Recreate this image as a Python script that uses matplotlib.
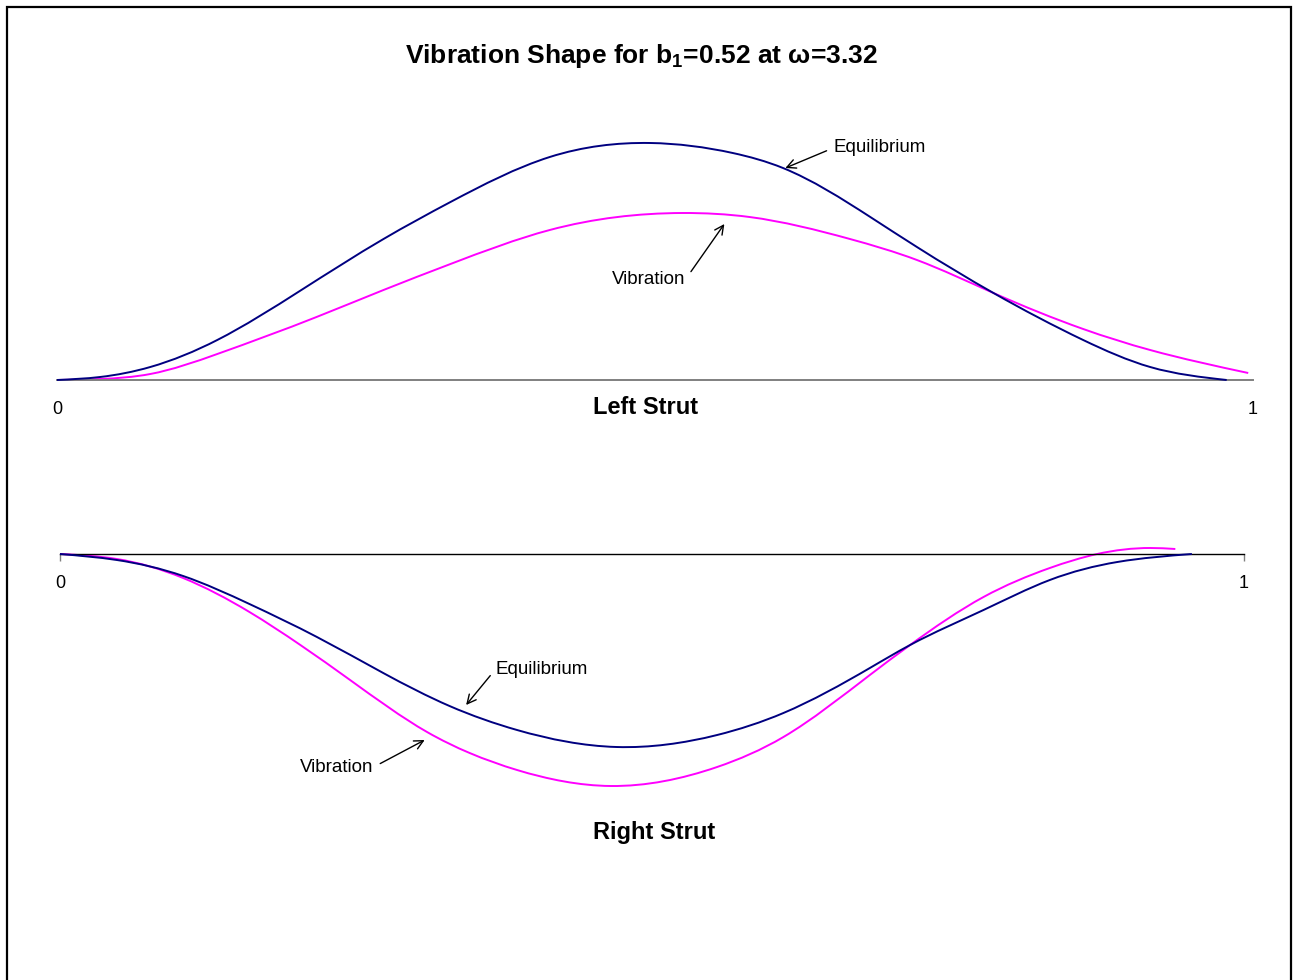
import matplotlib
matplotlib.use("Agg")
import matplotlib.pyplot as plt
import numpy as np
from matplotlib.patches import Rectangle, PathPatch
from matplotlib.path import Path

plt.rcParams['font.family'] = ['Liberation Sans', 'DejaVu Sans']
plt.rcParams['mathtext.fontset'] = 'custom'
plt.rcParams['mathtext.rm'] = 'Liberation Sans'
plt.rcParams['mathtext.bf'] = 'Liberation Sans:bold'

# left strut: position along strut (0..1) and deflection
left_eq_x = [0.0, 0.036, 0.078, 0.134, 0.203, 0.273, 0.329, 0.412, 0.496,
             0.565, 0.607, 0.680, 0.719, 0.783, 0.858, 0.914, 0.978]
left_eq_y = [0, 3, 13, 40, 89, 141, 178, 223, 237,
             227, 212, 163, 133, 87, 40, 13, 0]
left_vib_x = [0.0, 0.036, 0.078, 0.134, 0.217, 0.273, 0.329, 0.412, 0.523, 0.579,
              0.663, 0.719, 0.783, 0.858, 0.914, 0.996]
left_vib_y = [0, 1, 6, 26, 63, 90, 116, 150, 167, 163,
              141, 120, 87, 51, 30, 7]

# right strut
right_eq_x = [0.0, 0.048, 0.104, 0.160, 0.217, 0.273, 0.329, 0.386, 0.470, 0.555,
              0.611, 0.684, 0.718, 0.780, 0.836, 0.893, 0.956]
right_eq_y = [0, -6, -22, -50, -83, -119, -152, -176, -193, -181,
              -159, -114, -91, -56, -26, -8, 0]
right_vib_x = [0.0, 0.048, 0.104, 0.160, 0.203, 0.245, 0.310, 0.346, 0.386, 0.465,
               0.555, 0.611, 0.684, 0.718, 0.780, 0.836, 0.876, 0.921, 0.942]
right_vib_y = [0, -5, -24, -58, -91, -126, -178, -199, -216, -232,
               -213, -183, -121, -91, -43, -14, 0, 6, 5]

navy = '#000080'
magenta = '#FF00FF'
W, H = 1298, 980


def smooth_line(ax, xs, ys, color, z):
    # smoothed line through the points: cubic spline drawn as bezier segments
    x = np.asarray(xs, float)
    y = np.asarray(ys, float)
    n = len(x)
    h = np.diff(x)
    d = np.diff(y) / h
    A = np.zeros((n, n))
    b = np.zeros(n)
    A[0, 0], A[0, 1], b[0] = 2, 1, 3 * d[0]
    A[-1, -2], A[-1, -1], b[-1] = 1, 2, 3 * d[-1]
    for i in range(1, n - 1):
        A[i, i - 1] = h[i]
        A[i, i] = 2 * (h[i - 1] + h[i])
        A[i, i + 1] = h[i - 1]
        b[i] = 3 * (h[i] * d[i - 1] + h[i - 1] * d[i])
    m = np.linalg.solve(A, b)
    verts = [(x[0], y[0])]
    codes = [Path.MOVETO]
    for i in range(n - 1):
        verts += [(x[i] + h[i] / 3, y[i] + m[i] * h[i] / 3),
                  (x[i + 1] - h[i] / 3, y[i + 1] - m[i + 1] * h[i] / 3),
                  (x[i + 1], y[i + 1])]
        codes += [Path.CURVE4] * 3
    ax.add_patch(PathPatch(Path(verts, codes), fill=False, edgecolor=color,
                           lw=1.4, clip_on=False, zorder=z))


fig = plt.figure(figsize=(W / 100, H / 100), dpi=100)

# outer frame (bottom edge runs off the picture)
fig.patches.append(Rectangle((7 / W, -0.05), (1291 - 7) / W, 1.05 - 7 / H,
                             transform=fig.transFigure, fill=False,
                             edgecolor='black', linewidth=1.6))

fig.text(641 / W, 1 - 56 / H, r'Vibration Shape for b$_\mathbf{1}$=0.52 at ω=3.32',
         ha='center', va='center', fontsize=19, fontweight='bold')

arrow_l = dict(arrowstyle='->', color='black', lw=1, shrinkA=3, shrinkB=0,
               mutation_scale=16, relpos=(0, 0.5))
arrow_r = dict(arrowstyle='->', color='black', lw=1, shrinkA=3, shrinkB=0,
               mutation_scale=16, relpos=(1, 0.5))

# ---- left strut
ax1 = fig.add_axes([57 / W, 1 - 430 / H, 1196 / W, 330 / H])
ax1.set_xlim(0, 1)
ax1.set_ylim(-50, 280)
smooth_line(ax1, left_eq_x, left_eq_y, navy, 3)
smooth_line(ax1, left_vib_x, left_vib_y, magenta, 2)
for s in ['top', 'right', 'left']:
    ax1.spines[s].set_visible(False)
ax1.spines['bottom'].set_position(('data', 0))
ax1.spines['bottom'].set_color('#808080')
ax1.spines['bottom'].set_linewidth(1.4)
ax1.set_yticks([])
ax1.set_xticks([0, 1])
ax1.set_xticklabels(['0', '1'])
ax1.tick_params(axis='x', length=0, pad=15, labelsize=13)
ax1.patch.set_visible(False)
ax1.text(0.492, -27, 'Left Strut', ha='center', va='center', fontsize=17, fontweight='bold')

ax1.annotate('Equilibrium', xy=(0.609, 212), xytext=(0.649, 232), ha='left', va='center',
             fontsize=13.5, arrowprops=arrow_l)
ax1.annotate('Vibration', xy=(0.558, 156), xytext=(0.495, 101), ha='center', va='center',
             fontsize=13.5, arrowprops=arrow_r)

# ---- right strut
ax2 = fig.add_axes([60 / W, 1 - 850 / H, 1184 / W, 350 / H])
ax2.set_xlim(0, 1)
ax2.set_ylim(-296, 54)
smooth_line(ax2, right_eq_x, right_eq_y, navy, 3)
smooth_line(ax2, right_vib_x, right_vib_y, magenta, 2)
for s in ['top', 'right', 'left']:
    ax2.spines[s].set_visible(False)
ax2.spines['bottom'].set_position(('data', 0))
ax2.spines['bottom'].set_linewidth(1.0)
ax2.set_yticks([])
ax2.set_xticks([0, 1])
ax2.set_xticklabels(['0', '1'])
ax2.tick_params(axis='x', length=5, width=1, color='#808080', pad=10, labelsize=13)
ax2.patch.set_visible(False)
ax2.text(0.502, -278, 'Right Strut', ha='center', va='center', fontsize=17, fontweight='bold')

ax2.annotate('Equilibrium', xy=(0.343, -151), xytext=(0.368, -115), ha='left', va='center',
             fontsize=13.5, arrowprops=arrow_l)
ax2.annotate('Vibration', xy=(0.308, -186), xytext=(0.265, -213), ha='right', va='center',
             fontsize=13.5, arrowprops=arrow_r)

fig.savefig('out.png', dpi=100)
